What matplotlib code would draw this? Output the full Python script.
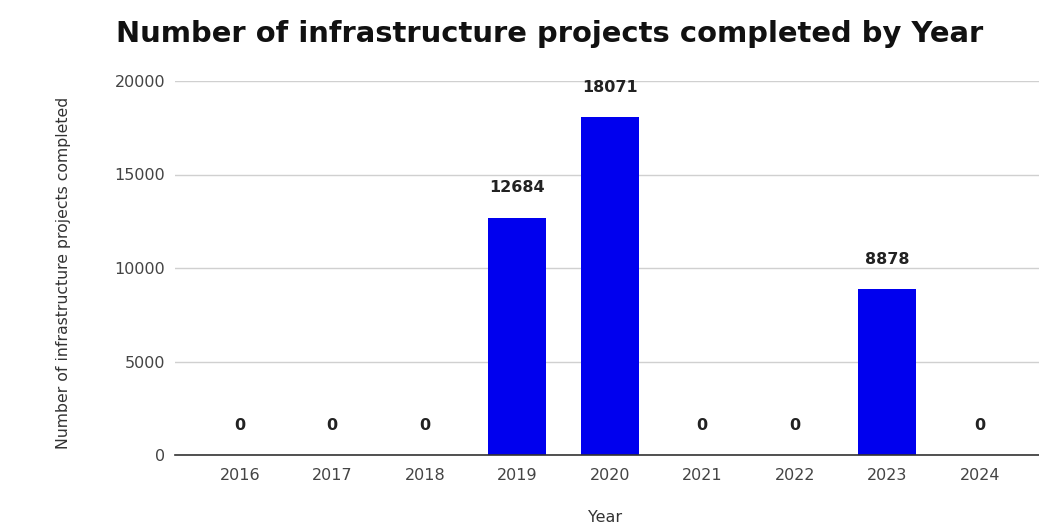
import matplotlib
matplotlib.use("Agg")
import matplotlib.pyplot as plt

years = ["2016", "2017", "2018", "2019", "2020", "2021", "2022", "2023", "2024"]
projects = [0, 0, 0, 12684, 18071, 0, 0, 8878, 0]
yticks = [0, 5000, 10000, 15000, 20000]

plt.rcParams["font.family"] = ["DejaVu Sans"]

fig = plt.figure(figsize=(10.39, 5.29), dpi=100)
ax = fig.add_axes([175 / 1039, 1 - 455 / 529, (1039 - 175) / 1039, (455 - 81) / 529])

x = list(range(len(years)))
ax.bar(x, projects, width=0.63, color="#0000ee", zorder=3)

for xi, v in zip(x, projects):
    ax.annotate(str(v), (xi, v), xytext=(0, 21.5), textcoords="offset points",
                ha="center", va="center", fontsize=11.5, fontweight="bold", color="#222222")

ax.set_xlim(-0.70, 8.64)
ax.set_ylim(0, 20000)
ax.set_xticks(x)
ax.set_xticklabels(years)
ax.set_yticks(yticks)
ax.set_yticklabels([str(t) for t in yticks])
ax.tick_params(axis="both", length=0, labelsize=11.5, labelcolor="#444444")
ax.tick_params(axis="x", pad=9)
ax.tick_params(axis="y", pad=7)

ax.grid(axis="y", color="#d0d0d0", linewidth=1, zorder=0)
for s in ["top", "right", "left"]:
    ax.spines[s].set_visible(False)
ax.spines["bottom"].set_color("#333333")
ax.spines["bottom"].set_linewidth(1.2)
ax.spines["bottom"].set_zorder(4)

fig.text(64 / 1039, 1 - 273 / 529, "Number of infrastructure projects completed",
         rotation=90, ha="center", va="center", fontsize=11.3, color="#333333")
fig.text(605 / 1039, 1 - 518 / 529, "Year", ha="center", va="center",
         fontsize=11.5, color="#333333")

fig.text(550 / 1039, 1 - 34 / 529, "Number of infrastructure projects completed by Year",
         ha="center", va="center", fontsize=20.9, fontweight="bold", color="#111111")

fig.savefig("out.png", dpi=100)
